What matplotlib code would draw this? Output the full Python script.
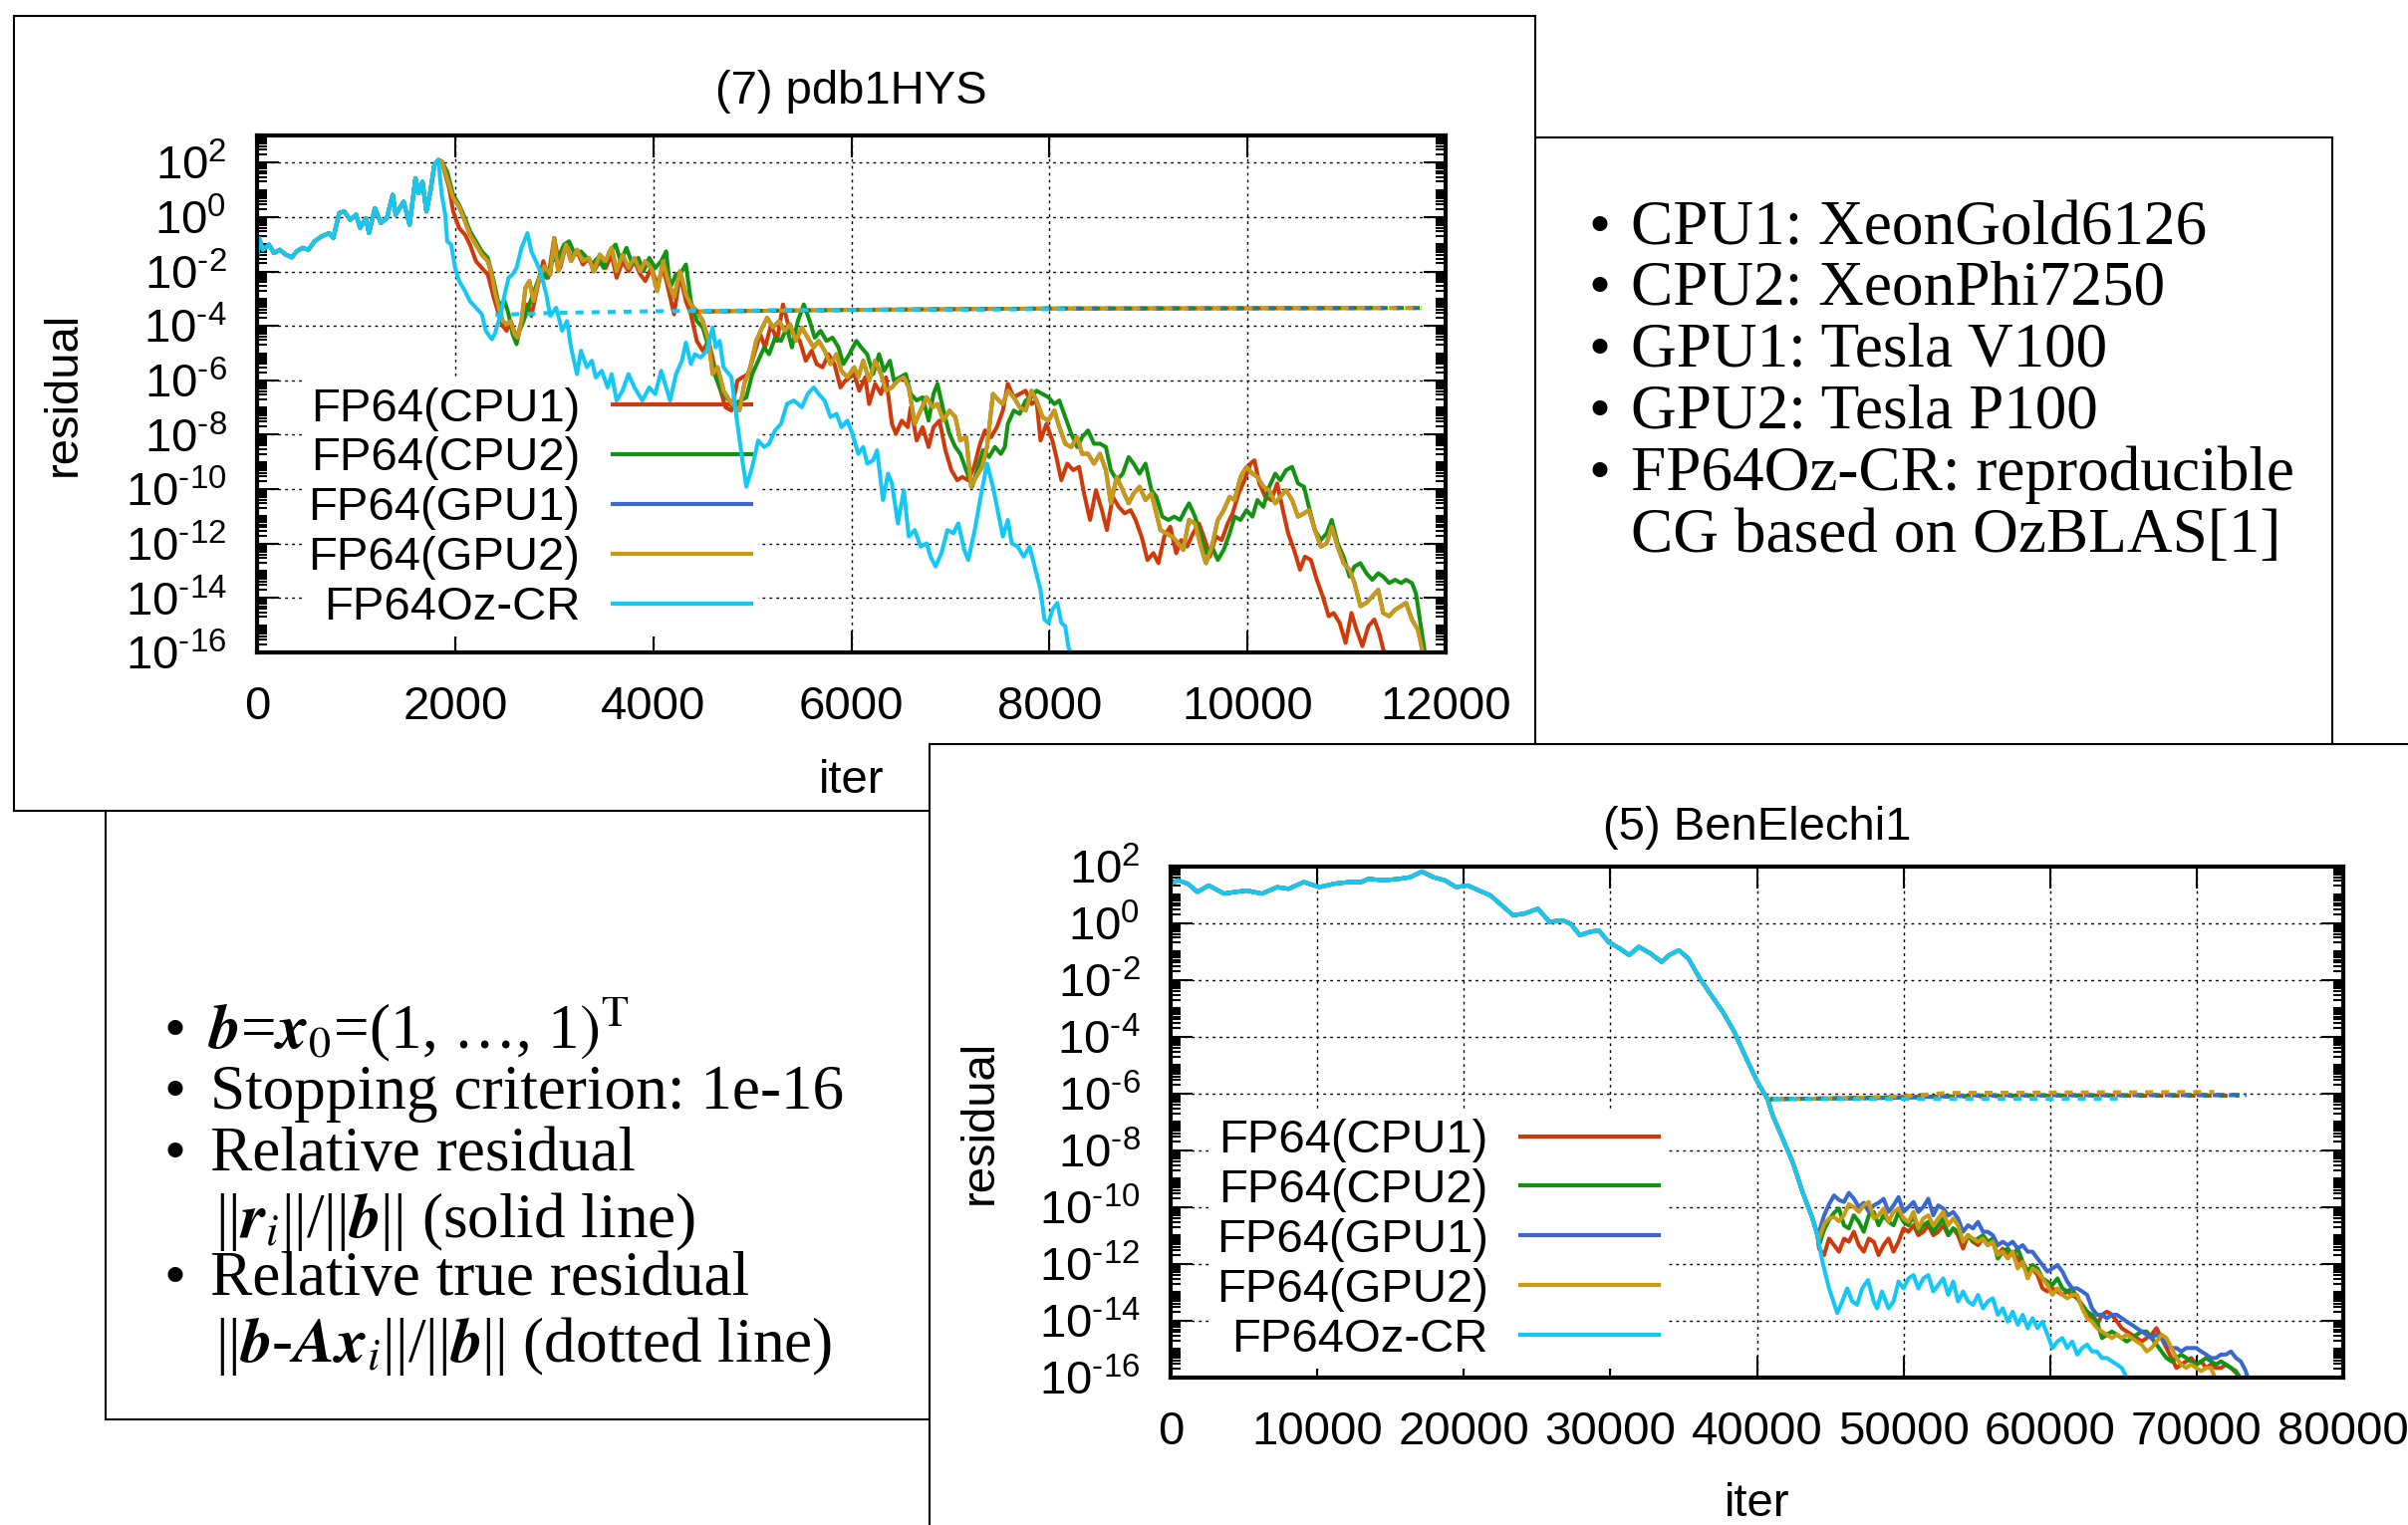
import numpy as np
import matplotlib
matplotlib.use("Agg")
import matplotlib.pyplot as plt
from matplotlib.patches import Rectangle
from matplotlib.lines import Line2D
from matplotlib.ticker import FixedLocator, LogLocator, FuncFormatter, NullFormatter
from matplotlib.font_manager import FontProperties

# ============================ DATA ============================
series_labels = ["FP64(CPU1)", "FP64(CPU2)", "FP64(GPU1)", "FP64(GPU2)", "FP64Oz-CR"]
series_colors = ["#cf3a0a", "#129412", "#3868d0", "#cc9910", "#13c8f7"]

top_title = "(7) pdb1HYS"
bot_title = "(5) BenElechi1"
top_xticks = [0, 2000, 4000, 6000, 8000, 10000, 12000]
bot_xticks = [0, 10000, 20000, 30000, 40000, 50000, 60000, 70000, 80000]
y_tick_exp = [-16, -14, -12, -10, -8, -6, -4, -2, 0, 2]

# ---- (7) pdb1HYS : relative residual, stored as log10 values ----
# common start (all five runs coincide up to the peak)
top_pre_it = [0, 20, 60, 120, 170, 230, 290, 350, 400, 460, 520, 580, 650, 730, 770, 830, 880, 940,
              1000, 1040, 1100, 1130, 1190, 1250, 1310, 1370, 1400, 1480, 1540, 1600, 1630, 1670,
              1710, 1750, 1790, 1830]
top_pre_lg = [-1.50, -0.77, -1.20, -1.01, -1.32, -1.20, -1.38, -1.48, -1.26, -1.13, -1.20, -0.89,
              -0.71, -0.59, -0.77, 0.15, 0.21, -0.10, 0.09, -0.40, -0.04, -0.59, 0.33, -0.22, -0.04,
              0.82, 0.09, 0.57, -0.28, 1.43, 0.88, 1.30, 0.21, 0.94, 1.91, 2.10]

cpu1_top_it = [1865, 1940, 1980, 2040, 2100, 2150, 2210, 2270, 2330, 2390,
               2440, 2480, 2520, 2560, 2620, 2670, 2730, 2770, 2830, 2890,
               2940, 3000, 3060, 3120, 3170, 3230, 3290, 3350, 3400, 3460,
               3520, 3580, 3630, 3690, 3750, 3810, 3870, 3920, 3980, 4040,
               4100, 4150, 4210, 4270, 4330, 4380, 4440, 4500, 4560, 4620,
               4670, 4730, 4790, 4850, 4900, 4960, 5020, 5080, 5130, 5190,
               5250, 5310, 5370, 5420, 5480, 5540, 5600, 5650, 5710, 5770,
               5830, 5890, 5940, 6030, 6080, 6140, 6180, 6240, 6300, 6350,
               6410, 6450, 6510, 6570, 6600, 6660, 6720, 6780, 6830, 6890,
               6950, 7010, 7070, 7120, 7180, 7240, 7300, 7350, 7410, 7470,
               7530, 7580, 7640, 7700, 7760, 7820, 7870, 7910, 7970, 8030,
               8070, 8120, 8180, 8240, 8300, 8350, 8410, 8470, 8530, 8580,
               8640, 8700, 8760, 8820, 8870, 8930, 8990, 9050, 9100, 9160,
               9220, 9280, 9330, 9390, 9450, 9510, 9570, 9620, 9680, 9740,
               9800, 9850, 9910, 9970, 10030, 10070, 10120, 10180, 10240, 10300,
               10350, 10410, 10470, 10530, 10580, 10640, 10700, 10760, 10820, 10870,
               10930, 10990, 11050, 11100, 11160, 11220, 11280, 11330, 11370, 11390]
cpu1_top_lg = [2.04, 1.06, 0.21, -0.40, -0.65, -1.01, -1.62, -1.87, -2.11, -2.96,
               -3.57, -4.00, -4.18, -3.82, -4.43, -3.94, -3.21, -3.63, -2.60, -1.62,
               -2.23, -0.77, -1.87, -1.01, -1.50, -1.26, -1.74, -1.50, -1.99, -1.62,
               -1.87, -1.38, -2.23, -1.62, -1.99, -1.62, -2.11, -2.35, -1.87, -2.48,
               -1.87, -2.60, -3.57, -2.11, -3.09, -3.57, -4.55, -4.91, -4.55, -5.52,
               -6.26, -6.99, -7.11, -6.01, -5.89, -5.77, -5.04, -4.30, -4.79, -3.94,
               -4.55, -3.21, -4.06, -4.30, -4.55, -5.28, -4.91, -5.40, -5.52, -5.04,
               -5.40, -6.26, -6.01, -5.77, -6.38, -5.89, -6.87, -6.13, -6.50, -5.89,
               -7.60, -7.96, -7.48, -7.72, -6.99, -8.21, -7.72, -8.45, -7.72, -7.48,
               -8.57, -9.30, -9.67, -9.55, -9.67, -9.18, -8.33, -7.84, -8.09, -7.72,
               -7.11, -6.13, -6.62, -6.50, -6.38, -6.87, -6.74, -8.21, -7.60, -8.21,
               -8.82, -9.67, -9.06, -9.30, -9.18, -10.16, -11.13, -10.04, -10.77, -11.50,
               -10.28, -10.65, -10.89, -10.77, -11.13, -11.74, -12.60, -12.35, -12.72, -11.74,
               -11.38, -12.35, -11.87, -12.11, -11.62, -11.26, -11.87, -12.48, -11.74, -11.87,
               -11.26, -10.89, -10.16, -9.67, -9.06, -8.94, -9.79, -10.28, -10.40, -9.79,
               -10.65, -11.62, -12.23, -12.96, -12.48, -12.60, -13.33, -13.94, -14.67, -14.55,
               -14.91, -15.65, -14.55, -15.16, -15.77, -15.04, -14.79, -15.28, -15.89, -16.0]

cpu2_top_it = [1865, 1920, 1980, 2040, 2100, 2150, 2210, 2270, 2330, 2390,
               2440, 2500, 2540, 2580, 2620, 2650, 2690, 2750, 2810, 2870,
               2920, 2980, 3040, 3100, 3150, 3210, 3270, 3330, 3380, 3440,
               3500, 3560, 3620, 3670, 3730, 3790, 3850, 3900, 3960, 4020,
               4080, 4130, 4170, 4230, 4290, 4330, 4380, 4440, 4500, 4560,
               4620, 4670, 4730, 4810, 4890, 4940, 5000, 5060, 5120, 5170,
               5230, 5290, 5350, 5400, 5460, 5520, 5580, 5630, 5690, 5750,
               5810, 5870, 5920, 5980, 6050, 6100, 6160, 6220, 6280, 6330,
               6390, 6430, 6490, 6550, 6600, 6660, 6720, 6780, 6830, 6870,
               6930, 6990, 7050, 7100, 7160, 7220, 7280, 7330, 7390, 7450,
               7510, 7550, 7580, 7640, 7700, 7760, 7820, 7870, 7930, 7990,
               8050, 8100, 8160, 8220, 8280, 8330, 8390, 8450, 8510, 8570,
               8620, 8680, 8740, 8800, 8850, 8910, 8970, 9030, 9080, 9140,
               9200, 9260, 9320, 9370, 9410, 9470, 9530, 9580, 9640, 9700,
               9760, 9820, 9870, 9930, 9990, 10050, 10100, 10160, 10220, 10280,
               10330, 10390, 10450, 10510, 10570, 10620, 10680, 10740, 10800, 10850,
               10910, 10970, 11030, 11080, 11140, 11200, 11260, 11320, 11370, 11430,
               11490, 11550, 11600, 11660, 11700, 11740, 11780, 11790]
cpu2_top_lg = [2.04, 1.67, 0.82, 0.45, -0.04, -0.52, -0.89, -1.26, -1.50, -2.35,
               -3.21, -3.09, -3.57, -4.30, -4.67, -4.18, -3.82, -3.21, -2.60, -1.99,
               -2.23, -1.62, -1.50, -1.01, -0.89, -1.38, -1.26, -1.50, -1.74, -1.50,
               -1.87, -1.26, -1.01, -1.62, -1.13, -1.74, -1.50, -1.99, -1.50, -1.87,
               -1.62, -1.26, -2.60, -2.11, -1.99, -1.74, -3.09, -3.82, -4.06, -4.79,
               -5.77, -6.26, -6.62, -6.87, -6.74, -6.62, -5.77, -5.28, -4.79, -5.04,
               -4.43, -4.55, -4.06, -4.79, -3.82, -3.21, -3.82, -4.43, -4.18, -4.55,
               -4.43, -4.79, -5.40, -5.04, -4.55, -4.79, -5.04, -5.77, -5.04, -5.65,
               -5.28, -6.01, -5.89, -5.77, -6.50, -6.74, -6.62, -7.48, -6.50, -6.13,
               -7.11, -7.96, -8.45, -8.70, -9.30, -9.91, -9.18, -8.57, -8.82, -8.45,
               -8.70, -8.45, -7.60, -7.11, -7.23, -6.74, -6.62, -6.38, -6.50, -6.62,
               -6.87, -6.74, -7.35, -7.96, -8.45, -8.09, -7.84, -8.33, -8.33, -8.45,
               -9.30, -9.67, -9.43, -8.82, -9.06, -9.43, -9.06, -10.04, -10.28, -11.01,
               -11.13, -11.01, -11.13, -10.77, -10.52, -11.01, -11.74, -12.35, -12.11, -12.60,
               -12.23, -11.62, -11.01, -11.13, -10.77, -11.01, -10.40, -10.65, -9.91, -9.43,
               -9.67, -9.30, -9.18, -9.79, -9.91, -10.65, -11.50, -11.87, -11.62, -11.13,
               -11.99, -12.48, -13.21, -12.84, -12.72, -13.09, -13.33, -13.09, -13.21, -13.45,
               -13.33, -13.45, -13.33, -13.45, -13.82, -14.79, -15.77, -16.0]

gpu2_top_it = [1865, 1920, 1980, 2040, 2100, 2150, 2210, 2270, 2330, 2370,
               2400, 2440, 2480, 2520, 2560, 2600, 2630, 2670, 2710, 2750,
               2790, 2850, 2900, 2960, 3000, 3040, 3080, 3120, 3170, 3230,
               3290, 3350, 3400, 3460, 3520, 3580, 3630, 3690, 3750, 3810,
               3870, 3920, 3980, 4040, 4100, 4150, 4210, 4270, 4330, 4380,
               4440, 4500, 4560, 4600, 4650, 4710, 4770, 4830, 4870, 4920,
               4980, 5040, 5100, 5150, 5210, 5270, 5330, 5380, 5440, 5500,
               5560, 5620, 5670, 5730, 5790, 5850, 5900, 5960, 6030, 6070,
               6120, 6180, 6240, 6300, 6350, 6410, 6470, 6530, 6580, 6640,
               6700, 6760, 6820, 6870, 6930, 6990, 7050, 7100, 7160, 7210,
               7260, 7320, 7370, 7430, 7490, 7530, 7580, 7640, 7700, 7760,
               7820, 7870, 7930, 7990, 8050, 8100, 8160, 8220, 8280, 8330,
               8390, 8450, 8510, 8570, 8620, 8680, 8740, 8800, 8850, 8910,
               8970, 9030, 9080, 9120, 9180, 9240, 9300, 9350, 9410, 9470,
               9530, 9580, 9640, 9700, 9760, 9820, 9870, 9930, 9990, 10050,
               10100, 10160, 10220, 10280, 10330, 10390, 10450, 10510, 10570, 10620,
               10680, 10740, 10800, 10850, 10910, 10970, 11030, 11080, 11140, 11200,
               11260, 11320, 11370, 11430, 11490, 11550, 11600, 11660, 11720, 11760,
               11770]
gpu2_top_lg = [2.04, 1.43, 0.70, 0.39, -0.16, -0.65, -1.01, -1.38, -1.62, -2.11,
               -2.72, -3.33, -3.82, -3.94, -3.82, -4.30, -4.43, -3.82, -2.60, -2.35,
               -3.09, -2.23, -1.80, -2.11, -0.77, -1.99, -1.50, -1.01, -1.62, -1.20,
               -1.62, -1.50, -1.99, -1.38, -1.62, -1.13, -1.99, -1.38, -1.87, -1.50,
               -1.99, -1.62, -1.87, -2.72, -1.62, -2.35, -2.96, -1.99, -2.84, -3.21,
               -3.45, -3.82, -4.55, -5.77, -5.52, -6.38, -6.74, -6.99, -7.11, -6.13,
               -5.52, -4.55, -4.06, -3.70, -4.06, -3.82, -4.18, -3.94, -4.55, -4.06,
               -4.43, -4.79, -4.55, -4.91, -5.40, -5.04, -5.65, -5.89, -5.52, -5.89,
               -5.28, -6.01, -5.28, -5.77, -6.38, -6.26, -6.01, -5.89, -6.26, -7.60,
               -7.11, -6.62, -6.99, -6.87, -7.48, -7.11, -7.35, -8.21, -8.09, -9.91,
               -9.55, -9.18, -8.45, -6.50, -6.74, -6.87, -6.38, -6.62, -6.99, -7.11,
               -6.38, -6.74, -7.35, -7.48, -7.11, -7.72, -8.33, -8.45, -8.09, -8.70,
               -8.70, -9.06, -8.70, -9.30, -10.52, -9.55, -10.04, -10.52, -10.16, -9.91,
               -10.40, -10.16, -10.89, -11.50, -11.62, -11.74, -11.99, -12.23, -11.13, -11.26,
               -12.11, -12.72, -12.11, -11.13, -10.77, -10.28, -10.40, -9.55, -9.18, -9.43,
               -9.55, -9.91, -10.04, -10.52, -10.28, -10.04, -10.40, -11.01, -10.89, -10.77,
               -11.50, -12.11, -11.99, -11.38, -12.11, -12.72, -12.96, -13.45, -14.30, -14.18,
               -13.94, -13.70, -14.55, -14.67, -14.43, -14.30, -14.18, -14.79, -15.16, -15.83,
               -16.0]
# GPU1 coincides with GPU2 in this run (hidden under it in the picture)
gpu1_top_it = gpu2_top_it
gpu1_top_lg = gpu2_top_lg

oz_top_it = [1865, 1900, 1920, 1960, 2000, 2040, 2100, 2150, 2210, 2270,
             2310, 2370, 2400, 2460, 2500, 2540, 2580, 2620, 2670, 2730,
             2770, 2830, 2870, 2920, 2960, 3020, 3080, 3130, 3170, 3230,
             3270, 3330, 3380, 3420, 3480, 3540, 3580, 3630, 3690, 3750,
             3810, 3890, 3960, 4020, 4080, 4130, 4170, 4230, 4290, 4330,
             4380, 4420, 4480, 4540, 4600, 4630, 4670, 4710, 4790, 4850,
             4900, 4940, 5000, 5060, 5120, 5170, 5230, 5290, 5350, 5420,
             5500, 5560, 5620, 5670, 5730, 5790, 5850, 5900, 5960, 6010,
             6070, 6120, 6160, 6220, 6260, 6320, 6370, 6410, 6470, 6530,
             6580, 6640, 6700, 6760, 6800, 6850, 6910, 6970, 7030, 7080,
             7140, 7180, 7240, 7300, 7370, 7430, 7490, 7530, 7580, 7620,
             7680, 7740, 7800, 7850, 7910, 7950, 7990, 8030, 8080, 8120,
             8160, 8190, 8210]
oz_top_lg = [0.82, 0.09, -0.89, -1.01, -1.87, -2.35, -2.72, -3.09, -3.33, -3.57,
             -4.18, -4.49, -4.30, -3.57, -2.84, -2.23, -2.11, -1.87, -1.13, -0.59,
             -1.26, -1.74, -2.11, -2.84, -3.63, -3.33, -4.18, -3.82, -4.79, -5.77,
             -4.91, -5.52, -5.28, -5.89, -5.65, -6.26, -5.77, -6.74, -6.38, -5.77,
             -6.26, -6.74, -6.26, -6.50, -5.65, -6.26, -6.74, -5.77, -5.28, -4.61,
             -5.40, -5.04, -5.16, -4.91, -4.06, -4.79, -4.55, -5.52, -5.89, -7.60,
             -8.94, -9.91, -9.18, -8.21, -8.45, -8.33, -7.84, -7.60, -6.87, -6.74,
             -6.99, -6.50, -6.26, -6.50, -6.74, -7.35, -7.23, -7.72, -7.48, -7.96,
             -8.70, -8.45, -9.06, -8.94, -8.57, -10.40, -9.43, -9.79, -11.26, -10.04,
             -11.74, -11.50, -12.11, -11.99, -12.48, -12.84, -12.35, -11.50, -11.62, -11.26,
             -12.23, -12.60, -11.62, -10.40, -9.06, -9.91, -11.01, -11.74, -11.13, -11.99,
             -12.11, -12.48, -12.11, -12.84, -13.70, -14.79, -14.91, -14.43, -14.18, -14.91,
             -15.04, -15.77, -16.0]

# ---- (7) pdb1HYS : relative true residual (dotted), log10 ----
cpu1_top_true_it = [4400, 6000, 8000, 10000, 11380]
cpu1_top_true_lg = [-3.47, -3.41, -3.36, -3.35, -3.34]
cpu2_top_true_it = [4400, 6000, 8000, 10000, 11780]
cpu2_top_true_lg = [-3.47, -3.41, -3.36, -3.35, -3.34]
gpu1_top_true_it = [4400, 6000, 8000, 10000, 11760]
gpu1_top_true_lg = [-3.47, -3.41, -3.36, -3.35, -3.34]
gpu2_top_true_it = [4400, 6000, 8000, 10000, 11760]
gpu2_top_true_lg = [-3.47, -3.41, -3.36, -3.35, -3.34]
oz_top_true_it = [2380, 3000, 4000, 5000, 6000, 7000, 8200]
oz_top_true_lg = [-3.60, -3.52, -3.46, -3.43, -3.41, -3.40, -3.38]

# ---- (5) BenElechi1 : relative residual, log10 ----
bot_pre_it = [0, 520, 1170, 1820, 2600, 3640, 4410, 5190, 6230, 7270,
              8050, 9090, 10130, 11170, 12210, 12990, 13500, 14540, 15580, 16360,
              17140, 17920, 18700, 19480, 20260, 21040, 21810, 22590, 23370, 24150,
              25060, 25840, 26750, 27270, 27920, 28570, 29210, 29870, 30640, 31290,
              31940, 32720, 33500, 34020, 34670, 35320, 36100, 36880, 37660, 38440,
              39210, 39990, 40720, 41080, 41760, 42440, 43110, 43790, 44130]
bot_pre_lg = [1.38, 1.50, 1.38, 1.09, 1.32, 1.03, 1.09, 1.14, 1.03, 1.26,
              1.20, 1.44, 1.26, 1.38, 1.44, 1.44, 1.55, 1.50, 1.55, 1.61,
              1.81, 1.61, 1.50, 1.26, 1.32, 1.14, 0.97, 0.62, 0.27, 0.33,
              0.50, 0.04, 0.09, -0.02, -0.43, -0.32, -0.26, -0.67, -0.90, -1.13,
              -0.84, -1.07, -1.37, -1.13, -0.96, -1.25, -1.95, -2.54, -3.12, -3.82,
              -4.70, -5.55, -6.20, -6.78, -7.60, -8.42, -9.47, -10.40, -10.99]

bot_post_it = [44240, 44580, 44920, 45260, 45600, 45940, 46270, 46610, 46950, 47290,
               47630, 47970, 48300, 48640, 48980, 49320, 49660, 50000, 50340, 50680,
               51010, 51350, 51690, 52030, 52370, 52710, 53050, 53390, 53720, 54060,
               54400, 54740, 55080, 55420, 55750, 56090, 56430, 56770, 57110, 57450,
               57790, 58130, 58470, 58800, 59140, 59480, 59820, 60160, 60500, 60840,
               61170, 61510, 61850, 62190, 62530, 62860, 63200, 63540, 63880, 64220,
               64560, 64890, 65230, 65570, 65910, 66250, 66590, 66920, 67260, 67600,
               67940, 68280, 68620, 68950, 69290, 69630, 69970, 70310, 70650, 70980,
               71320, 71660, 72000, 72340, 72680]

cpu1_bot_lg = [-11.46, -11.69, -11.11, -11.34, -11.57, -11.11, -11.22, -10.87, -11.34, -11.57,
               -11.11, -11.22, -11.69, -11.34, -11.11, -11.57, -11.22, -10.75, -10.87, -10.64,
               -10.99, -10.87, -10.64, -10.99, -10.87, -10.64, -10.99, -10.75, -10.99, -11.46,
               -10.99, -11.22, -11.34, -11.11, -11.34, -11.22, -11.69, -11.46, -11.69, -11.57,
               -11.81, -12.04, -12.27, -12.16, -12.39, -12.86, -12.97, -12.86, -12.97, -13.09,
               -12.97, -13.09, -13.21, -13.44, -13.79, -13.91, -14.14, -13.79, -13.68, -13.79,
               -14.03, -14.26, -14.38, -14.49, -14.61, -14.73, -14.61, -14.49, -14.26, -14.61,
               -14.96, -15.31, -15.66, -15.54, -15.43, -15.31, -15.54, -15.43, -15.66, -15.54,
               -15.66, -15.66, -15.54, -15.66, -15.83]
cpu1_bot_end_it = [72910, 72950]
cpu1_bot_end_lg = [-15.96, -16.0]

cpu2_bot_lg = [-11.34, -10.80, -10.45, -10.20, -10.05, -10.64, -10.75, -10.29, -10.52, -10.87,
               -10.29, -10.17, -10.64, -10.29, -10.52, -10.64, -10.17, -10.52, -10.64, -10.29,
               -10.87, -10.64, -10.52, -10.87, -10.64, -10.40, -10.99, -10.75, -10.87, -11.22,
               -10.99, -11.22, -11.11, -10.99, -11.22, -11.11, -11.81, -11.57, -11.46, -11.69,
               -11.46, -11.92, -12.27, -12.04, -12.16, -12.51, -12.62, -12.74, -12.51, -12.86,
               -12.97, -12.86, -13.21, -13.44, -13.68, -13.79, -14.03, -14.61, -14.49, -14.38,
               -14.49, -14.61, -14.73, -14.61, -14.49, -14.38, -14.38, -14.61, -14.84, -15.08,
               -15.31, -15.43, -15.31, -15.19, -15.31, -15.43, -15.54, -15.43, -15.31, -15.43,
               -15.54, -15.43, -15.54, -15.66, -15.77]
cpu2_bot_end_it = [72910, 72950]
cpu2_bot_end_lg = [-15.96, -16.0]

gpu1_bot_lg = [-10.87, -10.30, -9.90, -9.59, -9.75, -9.82, -9.50, -9.70, -10.00, -9.85,
               -10.17, -9.94, -9.85, -9.71, -10.17, -9.94, -9.65, -10.17, -10.00, -9.82,
               -10.17, -10.00, -9.71, -10.29, -9.94, -10.05, -10.29, -10.17, -10.40, -10.87,
               -10.64, -10.75, -10.52, -10.87, -10.87, -10.99, -11.34, -11.22, -11.34, -11.22,
               -11.46, -11.34, -11.57, -11.57, -11.81, -12.04, -12.27, -12.16, -12.04, -12.27,
               -12.62, -12.86, -12.86, -12.97, -13.09, -13.56, -13.79, -13.79, -13.91, -13.79,
               -13.79, -13.91, -14.03, -14.14, -14.26, -14.38, -14.49, -14.61, -14.49, -14.61,
               -14.84, -14.96, -14.96, -15.08, -14.96, -14.96, -14.96, -15.08, -15.19, -15.31,
               -15.31, -15.19, -15.19, -15.08, -15.31]
gpu1_bot_end_it = [73010, 73350, 73460, 73480]
gpu1_bot_end_lg = [-15.43, -15.77, -15.96, -16.0]

gpu2_bot_lg = [-11.11, -10.60, -10.40, -10.35, -10.50, -10.29, -9.90, -10.00, -10.17, -9.94,
               -9.82, -10.40, -10.29, -10.05, -10.52, -10.17, -10.05, -10.40, -10.52, -10.17,
               -10.75, -10.40, -10.29, -10.64, -10.40, -10.17, -10.64, -10.40, -10.64, -11.22,
               -10.99, -11.11, -11.22, -11.11, -11.34, -11.22, -11.69, -11.57, -11.81, -11.57,
               -12.16, -11.92, -12.51, -12.16, -12.27, -12.51, -12.74, -13.09, -12.86, -13.09,
               -13.21, -13.09, -13.09, -13.56, -13.91, -14.03, -14.26, -14.38, -14.49, -14.61,
               -14.49, -14.61, -14.49, -14.61, -14.73, -14.84, -15.08, -14.96, -14.73, -14.49,
               -14.61, -14.96, -15.31, -15.54, -15.66, -15.54, -15.66, -15.77, -15.66, -15.66]
gpu2_bot_end_it = [71210, 71250]
gpu2_bot_end_lg = [-15.96, -16.0]

oz_bot_it = [44470, 44920, 45480, 45820, 46160, 46500, 46840, 47180, 47580, 47970,
             48190, 48530, 48980, 49320, 49660, 50000, 50340, 50680, 51010, 51350,
             51690, 52030, 52370, 52710, 53050, 53390, 53720, 54060, 54400, 54740,
             55080, 55420, 55750, 56090, 56430, 56770, 57110, 57450, 57790, 58130,
             58470, 58800, 59140, 59480, 59820, 60160, 60500, 60840, 61170, 61510,
             61850, 62190, 62530, 62860, 63200, 63540, 63880, 64220, 64560, 64890,
             65120, 65200]
oz_bot_lg = [-11.92, -12.86, -13.73, -13.32, -12.86, -13.32, -13.44, -12.86, -12.57, -13.32,
             -13.56, -12.97, -13.56, -13.32, -12.62, -12.86, -12.51, -12.39, -12.86, -12.51,
             -12.39, -12.97, -12.74, -12.51, -13.09, -12.62, -13.32, -12.97, -13.32, -13.44,
             -13.09, -13.56, -13.32, -13.21, -13.79, -13.56, -14.03, -13.68, -14.14, -13.79,
             -14.26, -13.91, -14.26, -14.03, -14.49, -14.96, -14.73, -14.61, -14.96, -14.73,
             -15.19, -14.96, -14.84, -15.08, -15.08, -15.31, -15.31, -15.43, -15.54, -15.66,
             -15.89, -16.0]

# ---- (5) BenElechi1 : relative true residual (dotted), log10 ----
cpu1_bot_true_it = [40900, 52000, 60000, 72900]
cpu1_bot_true_lg = [-6.20, -6.12, -6.08, -6.08]
cpu2_bot_true_it = [40900, 48000, 55000, 72900]
cpu2_bot_true_lg = [-6.20, -6.16, -6.08, -6.05]
gpu1_bot_true_it = [40900, 50000, 55000, 73400]
gpu1_bot_true_lg = [-6.20, -6.15, -6.06, -6.06]
gpu2_bot_true_it = [40900, 45000, 50000, 53000, 71200]
gpu2_bot_true_lg = [-6.20, -6.18, -6.10, -5.98, -5.95]
oz_bot_true_it = [40900, 65200]
oz_bot_true_lg = [-6.20, -6.18]

right_box_lines = ["CPU1: XeonGold6126", "CPU2: XeonPhi7250", "GPU1: Tesla V100",
                   "GPU2: Tesla P100", "FP64Oz-CR: reproducible", "CG based on OzBLAS[1]"]
right_box_bullets = [True, True, True, True, True, False]

# ============================ FIGURE ============================
W, H, DPI = 2417, 1531, 100
plt.rcParams['font.family'] = ['Liberation Sans', 'DejaVu Sans']
plt.rcParams['mathtext.fontset'] = 'custom'
plt.rcParams['mathtext.rm'] = 'Liberation Sans'
plt.rcParams['mathtext.it'] = 'Liberation Sans:italic'
plt.rcParams['mathtext.bf'] = 'Liberation Sans:bold'

# bold-italic math command (fallback to bold if unavailable)
try:
    from matplotlib.mathtext import MathTextParser
    MathTextParser('path').parse(r'$\mathbfit{b}$', prop=FontProperties(math_fontfamily='stix'))
    BFIT = r'\mathbfit'
except Exception:
    BFIT = r'\mathbf'

fig = plt.figure(figsize=(W / DPI, H / DPI), dpi=DPI)
fig.patch.set_facecolor('white')


def fx(px):
    return px / W


def fy(py):
    return 1.0 - py / H


def box(x0, y0, x1, y1, z):
    fig.add_artist(Rectangle((fx(x0), fy(y1)), (x1 - x0) / W, (y1 - y0) / H,
                             transform=fig.transFigure, facecolor='white',
                             edgecolor='black', linewidth=1.5, zorder=z))


# stacked panels
box(1200, 138, 2341, 950, 1.0)     # right note box
box(106, 450, 1000, 1425, 1.0)     # left note box
box(14, 16, 1541, 814, 2.0)        # top chart panel
box(933, 747, 2600, 1700, 3.0)     # bottom chart panel

SERIF = 'Liberation Serif'
TS = 45.5
# right note text
r_base = [245, 306, 368, 430, 492, 554]
for txt, bul, yb in zip(right_box_lines, right_box_bullets, r_base):
    if bul:
        fig.text(fx(1606), fy(yb), "\u2022", ha='center', va='baseline', fontsize=TS,
                 family=SERIF, zorder=1.2)
    fig.text(fx(1637), fy(yb), txt, ha='left', va='baseline', fontsize=TS,
             family=SERIF, zorder=1.2)

# left note text
left_lines = [
    (True, "$%s{b}$=$%s{x}_{0}$=(1, \u2026, 1$)^{\\mathrm{T}}$" % (BFIT, BFIT), 1052, 209),
    (True, "Stopping criterion: 1e-16", 1113, 211),
    (True, "Relative residual", 1175, 211),
    (False, "||$%s{r}_{i}$||/||$%s{b}$|| (solid line)" % (BFIT, BFIT), 1242, 216),
    (True, "Relative true residual", 1300, 211),
    (False, "||$%s{b}$-$%s{Ax}_{i}$||/||$%s{b}$|| (dotted line)" % (BFIT, BFIT, BFIT), 1367, 216),
]
for bul, txt, yb, xs in left_lines:
    if bul:
        fig.text(fx(175), fy(yb), "\u2022", ha='center', va='baseline', fontsize=TS,
                 family=SERIF, zorder=1.2)
    fig.text(fx(xs), fy(yb), txt, ha='left', va='baseline', fontsize=TS,
             family=SERIF, math_fontfamily='stix', zorder=1.2)

FS = 34
LW = 2.9


def add_axes_px(x0, y0, x1, y1, z):
    ax = fig.add_axes([fx(x0), fy(y1), (x1 - x0) / W, (y1 - y0) / H])
    ax.set_zorder(z)
    ax.set_facecolor('white')
    return ax


def exp_label(v, p):
    e = int(round(np.log10(v)))
    if e < 0:
        return '$10^{\u2010%d}$' % (-e)
    return '$10^{%d}$' % e


def style(ax, xticks, ytop_exp):
    ax.set_yscale('log')
    ax.set_xlim(xticks[0], xticks[-1])
    ax.set_ylim(10.0 ** y_tick_exp[0], 10.0 ** ytop_exp)
    ax.xaxis.set_major_locator(FixedLocator(xticks))
    ax.yaxis.set_major_locator(FixedLocator([10.0 ** e for e in y_tick_exp]))
    ax.yaxis.set_minor_locator(LogLocator(base=10, subs=list(range(1, 10)), numticks=200))
    ax.yaxis.set_minor_formatter(NullFormatter())
    ax.yaxis.set_major_formatter(FuncFormatter(exp_label))
    ax.tick_params(which='both', direction='in', top=True, right=True, width=1.5, labelsize=FS)
    ax.tick_params(which='major', length=16)
    ax.tick_params(which='minor', length=7)
    ax.tick_params(axis='x', which='both', pad=24)
    ax.tick_params(axis='y', which='both', pad=22)
    for s in ax.spines.values():
        s.set_linewidth(3)
        s.set_zorder(4)
    # grid at major ticks, below the (opaque) key box
    for e in y_tick_exp:
        ax.axhline(10.0 ** e, color='black', linestyle=(0, (2, 3)), linewidth=1.0, zorder=0.6)
    for xv in xticks:
        ax.axvline(xv, color='black', linestyle=(0, (2, 3)), linewidth=1.0, zorder=0.6)


def draw(ax, solid, dotted, anchor):
    for k, (it, lg) in enumerate(solid):
        ax.plot(it, np.power(10.0, lg), color=series_colors[k], lw=LW, zorder=2 + 0.01 * k)
    for k, (it, lg) in enumerate(dotted):
        ax.plot(it, np.power(10.0, lg), color=series_colors[k], lw=LW,
                linestyle=(0.84 * k, (2.0, 2.0)), zorder=2.1 + 0.01 * k)
    handles = [Line2D([], [], color=c, lw=3.0) for c in series_colors]
    leg = ax.legend(handles, series_labels, loc='upper right', bbox_to_anchor=anchor,
                    bbox_transform=ax.transAxes, markerfirst=False, frameon=True,
                    fancybox=False, framealpha=1.0, facecolor='white', edgecolor='white',
                    fontsize=FS, handlelength=2.95, handletextpad=0.68, labelspacing=0.125,
                    borderpad=0.15, borderaxespad=0.0)
    leg.get_frame().set_linewidth(0)
    leg.set_zorder(1.5)


# ---------------- top chart ----------------
ax1 = add_axes_px(258, 136, 1451, 655, 2.5)
style(ax1, top_xticks, 3)
top_solid = [
    (top_pre_it + cpu1_top_it, top_pre_lg + cpu1_top_lg),
    (top_pre_it + cpu2_top_it, top_pre_lg + cpu2_top_lg),
    (top_pre_it + gpu1_top_it, top_pre_lg + gpu1_top_lg),
    (top_pre_it + gpu2_top_it, top_pre_lg + gpu2_top_lg),
    (top_pre_it + oz_top_it, top_pre_lg + oz_top_lg),
]
top_dotted = [
    (cpu1_top_true_it, cpu1_top_true_lg),
    (cpu2_top_true_it, cpu2_top_true_lg),
    (gpu1_top_true_it, gpu1_top_true_lg),
    (gpu2_top_true_it, gpu2_top_true_lg),
    (oz_top_true_it, oz_top_true_lg),
]
draw(ax1, top_solid, top_dotted, (0.4216, 0.527))
ax1.set_title(top_title, fontsize=FS, pad=23)
ax1.set_xlabel('iter', fontsize=FS)
ax1.set_ylabel('residual', fontsize=FS)
ax1.xaxis.set_label_coords(0.5, -0.206)
ax1.yaxis.set_label_coords(-0.144, 0.5)

# ---------------- bottom chart ----------------
ax2 = add_axes_px(1175, 869.5, 2352, 1383, 3.5)
style(ax2, bot_xticks, 2)
bot_solid = [
    (bot_pre_it + bot_post_it + cpu1_bot_end_it, bot_pre_lg + cpu1_bot_lg + cpu1_bot_end_lg),
    (bot_pre_it + bot_post_it + cpu2_bot_end_it, bot_pre_lg + cpu2_bot_lg + cpu2_bot_end_lg),
    (bot_pre_it + bot_post_it + gpu1_bot_end_it, bot_pre_lg + gpu1_bot_lg + gpu1_bot_end_lg),
    (bot_pre_it + bot_post_it[:len(gpu2_bot_lg)] + gpu2_bot_end_it,
     bot_pre_lg + gpu2_bot_lg + gpu2_bot_end_lg),
    (bot_pre_it + oz_bot_it, bot_pre_lg + oz_bot_lg),
]
bot_dotted = [
    (cpu1_bot_true_it, cpu1_bot_true_lg),
    (cpu2_bot_true_it, cpu2_bot_true_lg),
    (gpu1_bot_true_it, gpu1_bot_true_lg),
    (gpu2_bot_true_it, gpu2_bot_true_lg),
    (oz_bot_true_it, oz_bot_true_lg),
]
draw(ax2, bot_solid, bot_dotted, (0.4223, 0.520))
ax2.set_title(bot_title, fontsize=FS, pad=19)
ax2.set_xlabel('iter', fontsize=FS)
ax2.set_ylabel('residual', fontsize=FS)
ax2.xaxis.set_label_coords(0.5, -0.205)
ax2.yaxis.set_label_coords(-0.1436, 0.5)

fig.savefig('out.png', dpi=DPI, facecolor='white')
